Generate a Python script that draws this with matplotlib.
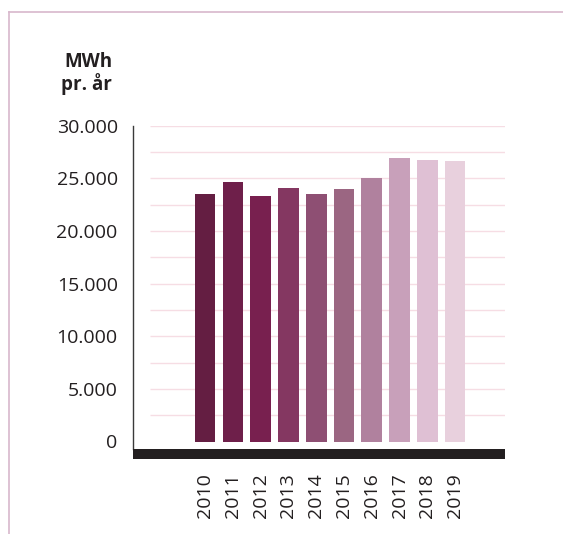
import matplotlib
matplotlib.use("Agg")
import matplotlib.pyplot as plt
from matplotlib.lines import Line2D

years = ["2010", "2011", "2012", "2013", "2014", "2015", "2016", "2017", "2018", "2019"]
values = [23550, 24650, 23300, 24050, 23550, 23950, 25000, 26900, 26750, 26600]
colors = ["#641e42", "#6e1f4a", "#78204f", "#843761", "#8e4f73",
          "#9b6682", "#b0819e", "#c8a0ba", "#dfc0d4", "#e8d0dd"]
ytick_vals = [0, 5000, 10000, 15000, 20000, 25000, 30000]
ytick_labels = ["0", "5.000", "10.000", "15.000", "20.000", "25.000", "30.000"]
ylabel = "MWh\npr. år"

plt.rcParams['font.family'] = ['Open Sans', 'DejaVu Sans']

W, H = 563, 534
fig = plt.figure(figsize=(W / 100, H / 100), dpi=100)

# axes in pixel geometry
left, right, top, bottom = 133, 505, 125.7, 459
ax = fig.add_axes([left / W, 1 - bottom / H, (right - left) / W, (bottom - top) / H])

px_per_unit = 27.76
x0 = 205.2
ax.set_xlim((left - x0) / px_per_unit, (right - x0) / px_per_unit)
ppk = (441.5 - 125.7) / 30000.0
ymin = -(459 - 441.5) / ppk
ybar_top = -(449 - 441.5) / ppk
ax.set_ylim(ymin, 30000)

# gridlines
for g in range(0, 30001, 2500):
    if g == 0:
        continue
    ax.plot([-2, 10.8], [g, g], color="#f6dde4", lw=1.0, zorder=0, solid_capstyle="butt")

xs = list(range(len(years)))
ax.bar(xs, values, width=0.74, color=colors, zorder=2)

# black base bar
ax.axhspan(ymin, ybar_top, color="#231f20", zorder=3, lw=0)

for s in ["top", "right", "bottom"]:
    ax.spines[s].set_visible(False)
ax.spines["left"].set_color("#3a3a3a")
ax.spines["left"].set_linewidth(1.0)
ax.spines["left"].set_bounds(ybar_top, 30000)

ax.set_yticks(ytick_vals)
ax.set_yticklabels(ytick_labels, fontsize=14, color="#231f20")
ax.tick_params(axis="y", length=0, pad=11)
ax.set_xticks(xs)
ax.set_xticklabels(years, rotation=90, fontsize=14, color="#231f20")
ax.tick_params(axis="x", length=0, pad=10)

fig.text(112 / W, 1 - 52 / H, ylabel, ha="right", va="top", fontsize=13.5,
         fontweight="bold", color="#231f20", linespacing=1.05)

# frame lines
fig.add_artist(Line2D([9 / W, 1], [1 - 12 / H, 1 - 12 / H], color="#d8b8cc", lw=1.2,
                      transform=fig.transFigure))
fig.add_artist(Line2D([9 / W, 9 / W], [0, 1 - 12 / H], color="#d8b8cc", lw=1.2,
                      transform=fig.transFigure))

fig.savefig("out.png", dpi=100)
